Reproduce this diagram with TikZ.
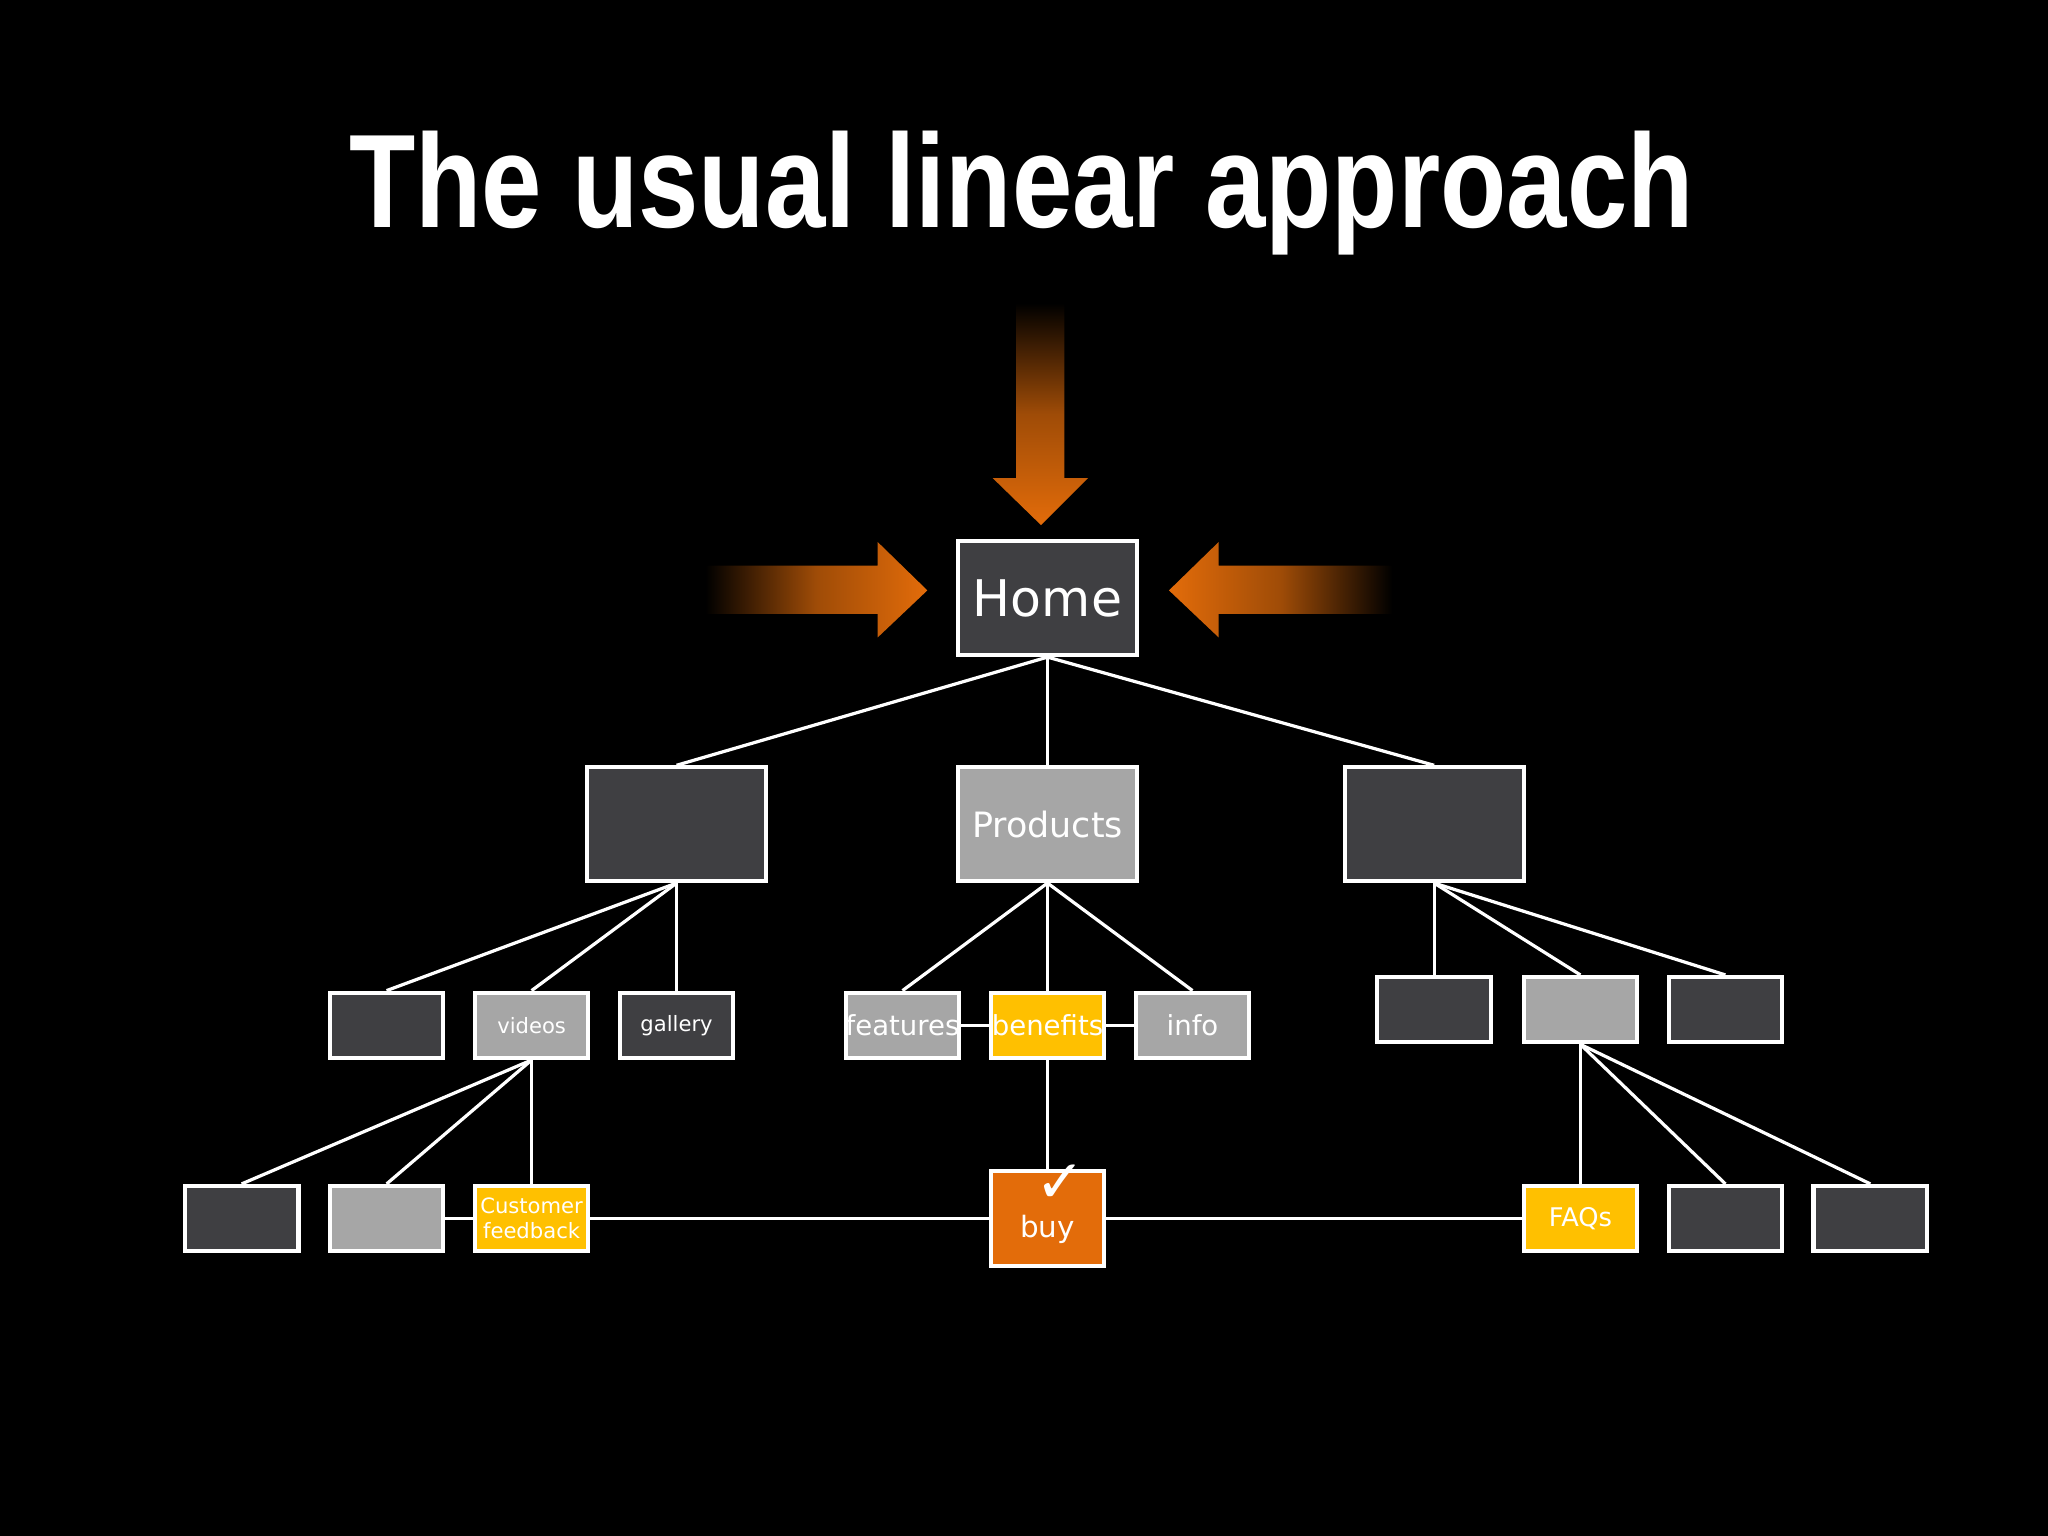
\documentclass[tikz,border=0pt]{standalone}
\usepackage{fontspec}
\setmainfont{DejaVu Sans}
\newfontfamily\titlefont{Liberation Sans}
\usetikzlibrary{positioning}
\definecolor{darkbox}{HTML}{3F3F42}
\definecolor{lightbox}{HTML}{A6A6A6}
\definecolor{yellowbox}{HTML}{FFC000}
\definecolor{orangebox}{HTML}{E36C0A}
\tikzset{
  box/.style={draw=white,line width=0.9pt,fill=darkbox,text=white,inner sep=0pt,align=center},
  big/.style={box,minimum width=13.7mm,minimum height=8.7mm},
  small/.style={box,minimum width=8.7mm,minimum height=5mm,font=\fontsize{4.6}{5}\selectfont},
  light/.style={fill=lightbox},
  yellow/.style={fill=yellowbox},
  link/.style={draw=white,line width=0.7pt},
}
\begin{document}
\begin{tikzpicture}[x=0.1mm,y=-0.1mm]
\fill[black] (0,0) rectangle (1568,1176);
\useasboundingbox (0,0) rectangle (1568,1176);

\node[text=white,font=\titlefont\bfseries\fontsize{29}{30}\selectfont,xscale=0.815] (title) at (782,148) {The usual linear approach};

% arrows into home
\shade[top color=black,bottom color=orangebox,middle color=orangebox!70!black]
  (778,232) -- (815,232) -- (815,366) -- (833,366) -- (797,402) -- (760,366) -- (778,366) -- cycle;
\shade[left color=black,right color=orangebox,middle color=orangebox!70!black]
  (540,433) -- (672,433) -- (672,415) -- (710,452) -- (672,488) -- (672,470) -- (540,470) -- cycle;
\shade[right color=black,left color=orangebox,middle color=orangebox!70!black]
  (1066,433) -- (933,433) -- (933,415) -- (895,452) -- (933,488) -- (933,470) -- (1066,470) -- cycle;

% level 1 and 2
\node[big,font=\fontsize{11}{12}\selectfont] (home) at (802,458) {Home};
\node[big] (left) at (518,631) {};
\node[big,light,font=\fontsize{7.6}{8}\selectfont] (products) at (802,631) {Products};
\node[big] (right) at (1098,631) {};

% level 3
\node[small] (l1) at (296,785) {};
\node[small,light] (videos) at (407,785) {videos};
\node[small] (gallery) at (518,785) {gallery};
\node[small,light,font=\fontsize{6}{6}\selectfont] (features) at (691,785) {features};
\node[small,yellow,font=\fontsize{6}{6}\selectfont] (benefits) at (802,785) {benefits};
\node[small,light,font=\fontsize{6}{6}\selectfont] (info) at (913,785) {info};
\node[small] (r1) at (1098,773) {};
\node[small,light] (r2) at (1210,773) {};
\node[small] (r3) at (1321,773) {};

% level 4
\node[small] (v1) at (185,933) {};
\node[small,light] (v2) at (296,933) {};
\node[small,yellow,font=\fontsize{4.6}{5.4}\selectfont] (feedback) at (407,933) {Customer\\feedback};
\node[box,fill=orangebox,minimum width=8.7mm,minimum height=7.3mm] (buy) at (802,933) {};
\node[text=white,font=\bfseries\fontsize{13}{13}\selectfont] (check) at (812,906) {✓};
\node[text=white,font=\fontsize{6.4}{7}\selectfont] (buylabel) at (802,941) {buy};
\node[small,yellow,font=\fontsize{5.6}{6}\selectfont] (faqs) at (1210,933) {FAQs};
\node[small] (f1) at (1321,933) {};
\node[small] (f2) at (1432,933) {};

% connectors
\foreach \a/\b in {home/left,home/products,home/right,
  left/l1,left/videos,left/gallery,
  products/features,products/benefits,products/info,
  right/r1,right/r2,right/r3,
  videos/v1,videos/v2,videos/feedback,
  r2/faqs,r2/f1,r2/f2,benefits/buy}
  \draw[link] (\a.south) -- (\b.north);
\draw[link] (features) -- (benefits);
\draw[link] (benefits) -- (info);
\draw[link] (v2) -- (feedback);
\draw[link] (feedback) -- (buy);
\draw[link] (buy) -- (faqs);
\end{tikzpicture}
\end{document}
